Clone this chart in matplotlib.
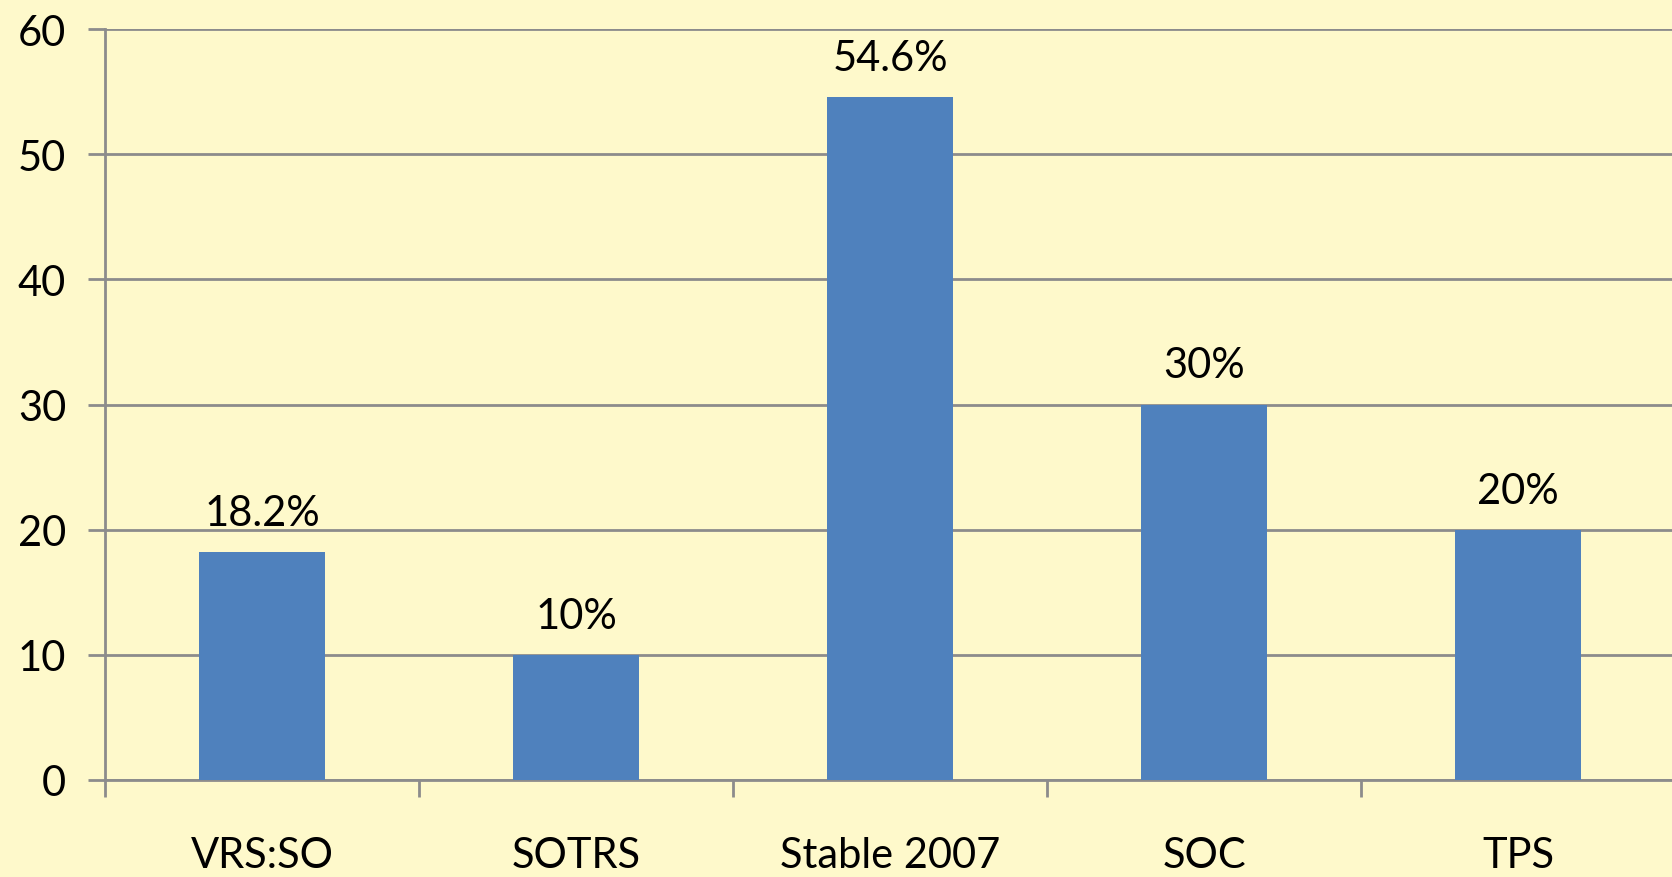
import matplotlib
matplotlib.use("Agg")
import matplotlib.pyplot as plt
from matplotlib.ticker import FixedLocator, NullFormatter

categories = ["VRS:SO", "SOTRS", "Stable 2007", "SOC", "TPS"]
values = [18.2, 10, 54.6, 30, 20]
labels = ["18.2%", "10%", "54.6%", "30%", "20%"]
yticks = [0, 10, 20, 30, 40, 50, 60]

bg = "#FEF9CB"
bar_color = "#4F81BD"
grid_color = "#8C8C8C"

plt.rcParams['font.family'] = ['Lato', 'DejaVu Sans']

fig = plt.figure(figsize=(16.72, 8.78), dpi=100, facecolor=bg)
ax = fig.add_axes([105/1672, 97/878, 1 - 105/1672, (781-30)/878])
ax.set_facecolor(bg)

x = list(range(len(categories)))
ax.bar(x, values, width=0.4, color=bar_color, zorder=3)
for xi, v, lab in zip(x, values, labels):
    ax.text(xi, v + 1.6, lab, ha="center", va="bottom", fontsize=30, color="black", zorder=4)

ax.set_xlim(-0.5, 4.49)
ax.set_ylim(0, 60)
ax.set_yticks(yticks)
ax.set_yticklabels([str(t) for t in yticks], fontsize=30)
ax.yaxis.grid(True, color=grid_color, linewidth=2.0, zorder=1)
ax.set_axisbelow(True)

ax.xaxis.set_major_locator(FixedLocator([i - 0.5 for i in range(len(categories) + 1)]))
ax.xaxis.set_major_formatter(NullFormatter())
ax.xaxis.set_minor_locator(FixedLocator(x))
ax.set_xticklabels(categories, minor=True, fontsize=30)
ax.tick_params(axis="x", which="minor", length=0, pad=40)
ax.tick_params(axis="x", which="major", length=12, width=2, color=grid_color, direction="out")
ax.tick_params(axis="y", length=12, width=2, color=grid_color, pad=16)

for s in ["top", "right"]:
    ax.spines[s].set_visible(False)
for s in ["left", "bottom"]:
    ax.spines[s].set_color(grid_color)
    ax.spines[s].set_linewidth(2.0)

fig.savefig("out.png", dpi=100, facecolor=bg)
